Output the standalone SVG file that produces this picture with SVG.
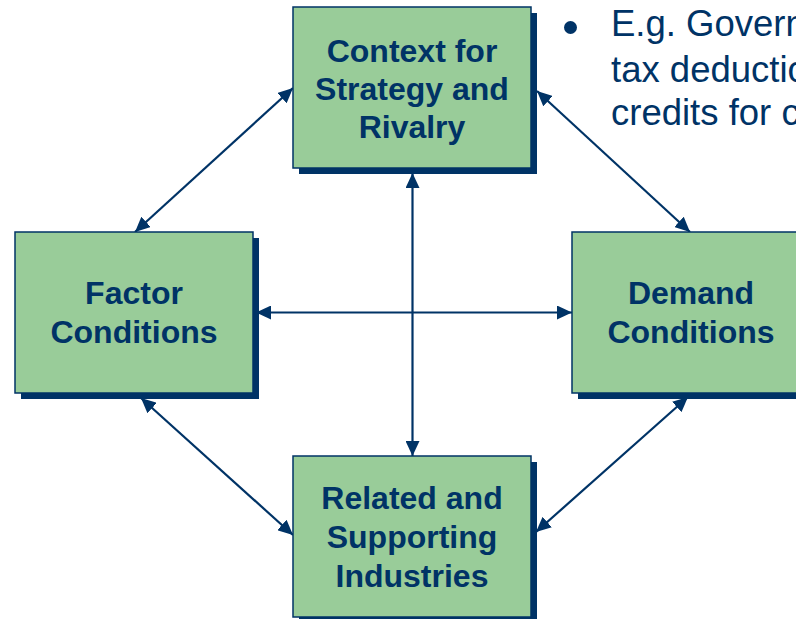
<svg xmlns="http://www.w3.org/2000/svg" width="796" height="619" viewBox="0 0 796 619">
  <style>
    .box { fill: #99CC99; stroke: #003366; stroke-width: 1.5; }
    .shadow { fill: #003366; }
    .label { font-family: "Liberation Sans", Arial, sans-serif; font-weight: bold; font-size: 32px; fill: #003366; text-anchor: middle; }
    .bullet { font-family: "Liberation Sans", Arial, sans-serif; font-size: 36.5px; fill: #003366; }
    .link { stroke: #003366; stroke-width: 2.2; fill: none; marker-start: url(#head); marker-end: url(#head); }
  </style>
  <defs>
    <marker id="head" markerUnits="userSpaceOnUse" markerWidth="15" markerHeight="14" refX="15" refY="7" orient="auto-start-reverse">
      <path d="M0,0 L15,7 L0,14 Z" fill="#003366"/>
    </marker>
  </defs>
  <rect width="796" height="619" fill="#ffffff"/>

  <!-- connectors -->
  <g id="connectors">
    <line class="link" x1="135" y1="232" x2="293" y2="88"/>
    <line class="link" x1="537" y1="91" x2="690" y2="232"/>
    <line class="link" x1="141" y1="398" x2="293" y2="535"/>
    <line class="link" x1="688" y1="397" x2="536" y2="532"/>
    <line class="link" x1="256" y1="312.5" x2="572" y2="312.5"/>
    <line class="link" x1="412.5" y1="173" x2="412.5" y2="456"/>
  </g>

  <!-- Context for Strategy and Rivalry -->
  <g id="node-context">
    <rect class="shadow" x="299" y="13" width="238" height="161"/>
    <rect class="box" x="293" y="7" width="238" height="161"/>
    <text class="label" x="412" y="62">Context for</text>
    <text class="label" x="412" y="100">Strategy and</text>
    <text class="label" x="412" y="137.5">Rivalry</text>
  </g>

  <!-- Factor Conditions -->
  <g id="node-factor">
    <rect class="shadow" x="21" y="238" width="238" height="161"/>
    <rect class="box" x="15" y="232" width="238" height="161"/>
    <text class="label" x="134" y="304">Factor</text>
    <text class="label" x="134" y="343">Conditions</text>
  </g>

  <!-- Demand Conditions -->
  <g id="node-demand">
    <rect class="shadow" x="578" y="238" width="238" height="161"/>
    <rect class="box" x="572" y="232" width="238" height="161"/>
    <text class="label" x="691" y="304">Demand</text>
    <text class="label" x="691" y="343">Conditions</text>
  </g>

  <!-- Related and Supporting Industries -->
  <g id="node-related">
    <rect class="shadow" x="299" y="462" width="238" height="161"/>
    <rect class="box" x="293" y="456" width="238" height="161"/>
    <text class="label" x="412" y="509">Related and</text>
    <text class="label" x="412" y="547.5">Supporting</text>
    <text class="label" x="412" y="586.5">Industries</text>
  </g>

  <!-- bullet note, running past the right edge -->
  <g id="note">
    <circle cx="570.5" cy="27.5" r="6.5" fill="#003366"/>
    <text class="bullet" x="611" y="36">E.g. Govern</text>
    <text class="bullet" x="611" y="81.5">tax deductio</text>
    <text class="bullet" x="611" y="125">credits for c</text>
  </g>
</svg>
